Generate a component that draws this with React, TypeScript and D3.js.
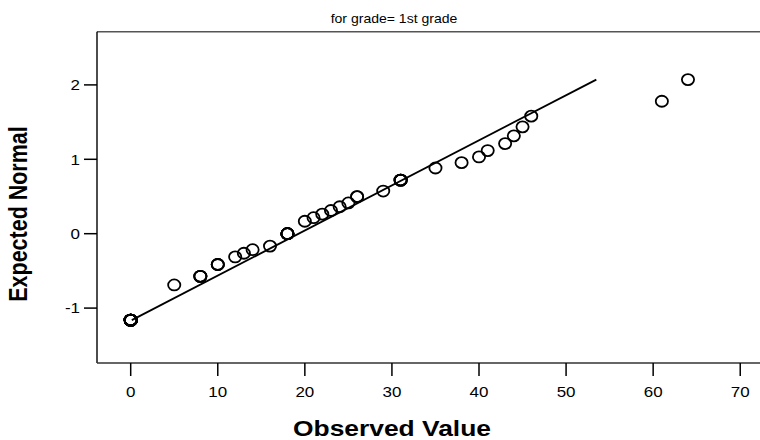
import React from "react";
import * as d3 from "d3";

// Distinct observed values, how many cases share each one, and their expected normal scores
const observedValues = [0, 5, 8, 10, 12, 13, 14, 16, 18, 20, 21, 22, 23, 24, 25, 26, 29, 31, 35, 38, 40, 41, 43, 44, 45, 46, 61, 64];
const tieCounts = [12, 1, 3, 3, 1, 1, 1, 1, 6, 1, 1, 1, 1, 1, 1, 2, 1, 4, 1, 1, 1, 1, 1, 1, 1, 1, 1, 1];
const expectedNormal = [-1.162, -0.689, -0.573, -0.414, -0.312, -0.263, -0.215, -0.167, 0.0, 0.167, 0.215, 0.263, 0.312, 0.362, 0.413, 0.498, 0.573, 0.72, 0.883, 0.955, 1.032, 1.117, 1.211, 1.315, 1.436, 1.58, 1.78, 2.071];

// Reference line parameters (sample mean and standard deviation)
const lineMean = 19.3;
const lineSD = 16.5;

const xTicks = [0, 10, 20, 30, 40, 50, 60, 70];
const yTicks = [-1, 0, 1, 2];

const titleText = "for grade= 1st grade";
const xTitle = "Observed Value";
const yTitle = "Expected Normal";

const W = 760;
const H = 440;
const frame = { left: 97, right: 762, top: 31.7, bottom: 363 };
// the chart's lettering is set slightly wide
const stretch = 1.17;

export default function App() {
  const x = d3.scaleLinear().domain([-3.87, 72.5]).range([frame.left, frame.right]);
  const y = d3.scaleLinear().domain([-1.738, 2.715]).range([frame.bottom, frame.top]);

  const points: { v: number; e: number; k: string }[] = [];
  observedValues.forEach((v, i) => {
    for (let j = 0; j < tieCounts[i]; j++) points.push({ v, e: expectedNormal[i], k: `${i}-${j}` });
  });

  const [eMin, eMax] = d3.extent(expectedNormal) as [number, number];
  const lineData: [number, number][] = [eMin, eMax].map((z) => [lineMean + lineSD * z, z]);
  const linePath = d3
    .line<[number, number]>()
    .x((d) => x(d[0]))
    .y((d) => y(d[1]))(lineData);

  const font = "'Liberation Sans', Arial, sans-serif";

  return (
    <svg
      width={W}
      height={H}
      style={{ position: "absolute", left: 0, top: 0, background: "#fff" }}
      fontFamily={font}
    >
      <rect x={0} y={0} width={W} height={H} fill="#fff" />
      <text transform={`translate(394,23) scale(1.08,1)`} fontSize={13} textAnchor="middle" fill="#000">
        {titleText}
      </text>

      {/* plot frame */}
      <line x1={frame.left} x2={frame.right} y1={frame.top} y2={frame.top} stroke="#555" strokeWidth={1.4} />
      <line x1={frame.left} x2={frame.left} y1={frame.top} y2={frame.bottom} stroke="#000" strokeWidth={1.4} />
      <line x1={frame.left} x2={frame.right} y1={frame.bottom} y2={frame.bottom} stroke="#333" strokeWidth={1.6} />

      {/* x axis */}
      {xTicks.map((t) => (
        <g key={`xt${t}`}>
          <line x1={x(t)} x2={x(t)} y1={frame.bottom} y2={frame.bottom + 13} stroke="#000" strokeWidth={1.5} />
          <text
            transform={`translate(${x(t)},${frame.bottom + 34}) scale(${stretch},1)`}
            fontSize={14.5}
            textAnchor="middle"
            fill="#000"
          >
            {t}
          </text>
        </g>
      ))}

      {/* y axis */}
      {yTicks.map((t) => (
        <g key={`yt${t}`}>
          <line x1={frame.left - 13} x2={frame.left} y1={y(t)} y2={y(t)} stroke="#000" strokeWidth={1.5} />
          <text
            transform={`translate(${frame.left - 17},${y(t) + 5.3}) scale(${stretch},1)`}
            fontSize={14.5}
            textAnchor="end"
            fill="#000"
          >
            {t}
          </text>
        </g>
      ))}

      <text
        transform={`translate(392,436) scale(1.2,1)`}
        fontSize={22}
        fontWeight="bold"
        textAnchor="middle"
        fill="#000"
      >
        {xTitle}
      </text>
      <text
        transform={`translate(27,214) scale(${stretch},1) rotate(-90)`}
        fontSize={21.5}
        fontWeight="bold"
        textAnchor="middle"
        fill="#000"
      >
        {yTitle}
      </text>

      {/* reference line */}
      <path d={linePath ?? ""} fill="none" stroke="#000" strokeWidth={1.8} />

      {/* observations */}
      {points.map((p) => (
        <ellipse key={p.k} cx={x(p.v)} cy={y(p.e)} rx={6.1} ry={5.5} fill="none" stroke="#000" strokeWidth={1.8} />
      ))}
    </svg>
  );
}
